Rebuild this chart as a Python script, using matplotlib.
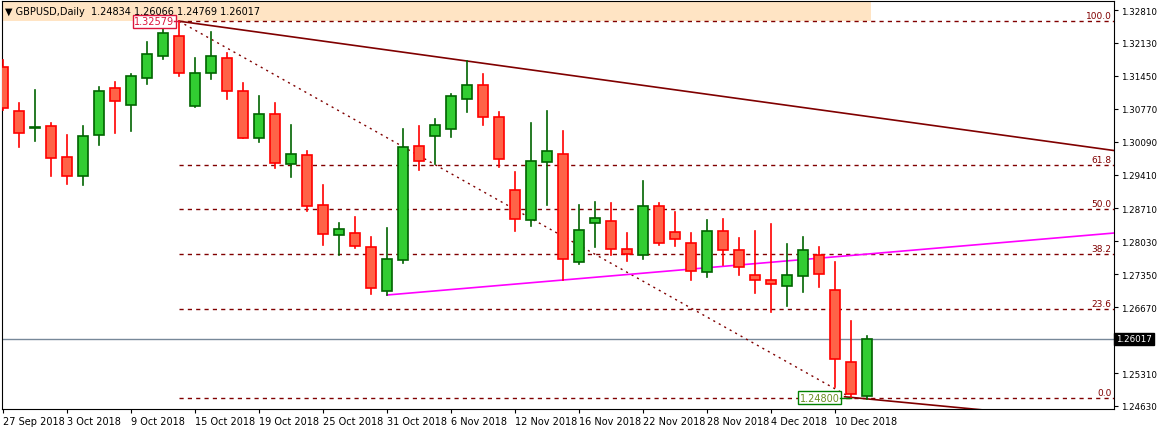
import matplotlib
matplotlib.use("Agg")
import matplotlib.pyplot as plt
from matplotlib.patches import Rectangle

opens  = [1.31632,1.30723,1.30372,1.30413,1.29773,1.29380,1.30227,1.31199,1.30847,1.31405,
          1.31860,1.32273,1.30827,1.31508,1.31818,1.31137,1.30166,1.30661,1.29628,1.29814,
          1.28781,1.28161,1.28203,1.27914,1.27005,1.27645,1.30000,1.30207,1.30351,1.30971,
          1.31260,1.30599,1.29091,1.28471,1.29670,1.29835,1.27604,1.28409,1.28451,1.27872,
          1.27748,1.28761,1.28223,1.27996,1.27397,1.28244,1.27852,1.27335,1.27232,1.27108,
          1.27314,1.27748,1.27025,1.25538,1.24834]
highs  = [1.31777,1.30889,1.31157,1.30475,1.30227,1.30413,1.31219,1.31322,1.31488,1.32149,
          1.32459,1.32579,1.31818,1.32355,1.31922,1.31302,1.31033,1.30889,1.30434,1.29897,
          1.29194,1.28409,1.28533,1.28120,1.28306,1.30351,1.30413,1.30558,1.31075,1.31756,
          1.31488,1.30703,1.29463,1.30475,1.30723,1.30310,1.28781,1.28843,1.28823,1.28203,
          1.29277,1.28823,1.28637,1.28203,1.28471,1.28492,1.28100,1.28244,1.28389,1.27976,
          1.28120,1.27914,1.27604,1.26385,1.26066]
lows   = [1.30744,1.29980,1.30104,1.29380,1.29215,1.29194,1.30021,1.30269,1.30310,1.31281,
          1.31798,1.31446,1.30800,1.31384,1.30971,1.30166,1.30083,1.29546,1.29360,1.28657,
          1.27955,1.27748,1.27893,1.26943,1.26922,1.27583,1.29504,1.29628,1.30186,1.30703,
          1.30434,1.29566,1.28244,1.28347,1.28781,1.27232,1.27562,1.27914,1.27748,1.27624,
          1.27666,1.27955,1.27934,1.27232,1.27294,1.27542,1.27335,1.26963,1.26571,1.26695,
          1.26984,1.27087,1.25021,1.24800,1.24769]
closes = [1.30785,1.30269,1.30393,1.29752,1.29380,1.30207,1.31137,1.30930,1.31446,1.31901,
          1.32335,1.31508,1.31508,1.31860,1.31137,1.30166,1.30661,1.29649,1.29835,1.28761,
          1.28182,1.28285,1.27934,1.27067,1.27666,1.29980,1.29690,1.30434,1.31033,1.31260,
          1.30599,1.29732,1.28492,1.29690,1.29897,1.27666,1.28265,1.28513,1.27872,1.27769,
          1.28761,1.27996,1.28079,1.27418,1.28244,1.27852,1.27500,1.27232,1.27149,1.27335,
          1.27852,1.27356,1.25600,1.24877,1.26017]

date_labels = ["27 Sep 2018","3 Oct 2018","9 Oct 2018","15 Oct 2018","19 Oct 2018",
               "25 Oct 2018","31 Oct 2018","6 Nov 2018","12 Nov 2018","16 Nov 2018",
               "22 Nov 2018","28 Nov 2018","4 Dec 2018","10 Dec 2018"]
price_ticks = [1.32810,1.32130,1.31450,1.30770,1.30090,1.29410,1.28710,1.28030,
               1.27350,1.26670,1.25310,1.24630]
fib_high = 1.32579
fib_low = 1.24800
fib_levels = [100.0, 61.8, 50.0, 38.2, 23.6, 0.0]
current = 1.26017

W, H = 1157, 431
fig = plt.figure(figsize=(W/100, H/100), dpi=100)
ax = fig.add_axes([2/W, 21/H, 1112/W, 408/H])
ax.set_xlim(-0.0625, 69.44)
ax.set_ylim(1.24567, 1.32996)

bull_f, bull_e = "#32CD32", "#006400"
bear_f, bear_e = "#FF6347", "#FF0000"
bw = 0.62
for i, (o, h, l, c) in enumerate(zip(opens, highs, lows, closes)):
    up = c >= o
    ec = bull_e if up else bear_e
    fc = bull_f if up else bear_f
    ax.plot([i, i], [l, h], color=ec, lw=1.2, zorder=3)
    lo, hi = min(o, c), max(o, c)
    if hi - lo < 0.0002:
        ax.plot([i-bw/2, i+bw/2], [(o+c)/2]*2, color=ec, lw=2, zorder=4)
    else:
        ax.add_patch(Rectangle((i-bw/2, lo), bw, hi-lo, facecolor=fc, edgecolor=ec, lw=1.2, zorder=4))

dr = "#800000"
for lv in fib_levels:
    p = fib_low + (fib_high - fib_low) * lv / 100
    ax.plot([11, 69.44], [p, p], color=dr, lw=1, ls=(0, (3, 3)), zorder=2)
    ax.text(69.3, p + 0.0002, f"{lv:.1f}", color=dr, fontsize=6.5, ha="right", va="bottom", zorder=5)
ax.plot([11, 53], [fib_high, fib_low], color=dr, lw=1, ls=(0, (1.5, 3)), zorder=2)

s = (highs[29] - highs[11]) / 18
ax.plot([11, 69.44], [highs[11], highs[11] + s*(69.44-11)], color=dr, lw=1.2, zorder=2)
ax.plot([52.6, 61.5], [1.2482, 1.2454], color=dr, lw=1.2, zorder=2)
sm = (lows[35] - lows[24]) / 11
ax.plot([24, 69.44], [lows[24], lows[24] + sm*(69.44-24)], color="#FF00FF", lw=1.2, zorder=2)

ax.axhline(current, color="#778899", lw=1, zorder=1)

ax.add_patch(Rectangle((-0.0625, 1.32996-20*0.0002066), 54.3, 20*0.0002066,
                       facecolor="#FFE4C4", edgecolor="none", zorder=1))
ax.text(0.1, 1.32996-10*0.0002066, "▼ GBPUSD,Daily  1.24834 1.26066 1.24769 1.26017",
        fontsize=7, va="center", ha="left", color="black", zorder=6)

ax.text(10.7, fib_high, "1.32579", fontsize=7, color="#DC143C", ha="right", va="center", zorder=6,
        bbox=dict(boxstyle="square,pad=0.15", fc="white", ec="#DC143C", lw=1))
ax.plot([10.7, 11], [fib_high, fib_high], color="#DC143C", lw=1, zorder=6)
ax.text(52.3, fib_low, "1.24800", fontsize=7, color="#6B8E23", ha="right", va="center", zorder=6,
        bbox=dict(boxstyle="square,pad=0.15", fc="white", ec="#008000", lw=1))
ax.plot([52.3, 53], [fib_low, fib_low], color="#008000", lw=1, zorder=6)

ax.yaxis.tick_right()
ax.set_yticks(price_ticks)
ax.set_yticklabels([f"{p:.5f}" for p in price_ticks], fontsize=6.3)
ax.tick_params(axis="y", length=3, pad=2)
xt = list(range(0, 4*len(date_labels), 4))
ax.set_xticks(xt)
ax.set_xticklabels(date_labels, fontsize=7, ha="left")
ax.tick_params(axis="x", length=3, pad=2)
for sp in ax.spines.values():
    sp.set_color("black")
ax.text(1.002, current, "1.26017", transform=ax.get_yaxis_transform(), fontsize=6.3,
        color="white", va="center", ha="left", zorder=7,
        bbox=dict(boxstyle="square,pad=0.2", fc="black", ec="black"), clip_on=False)

fig.savefig("out.png", dpi=100)
